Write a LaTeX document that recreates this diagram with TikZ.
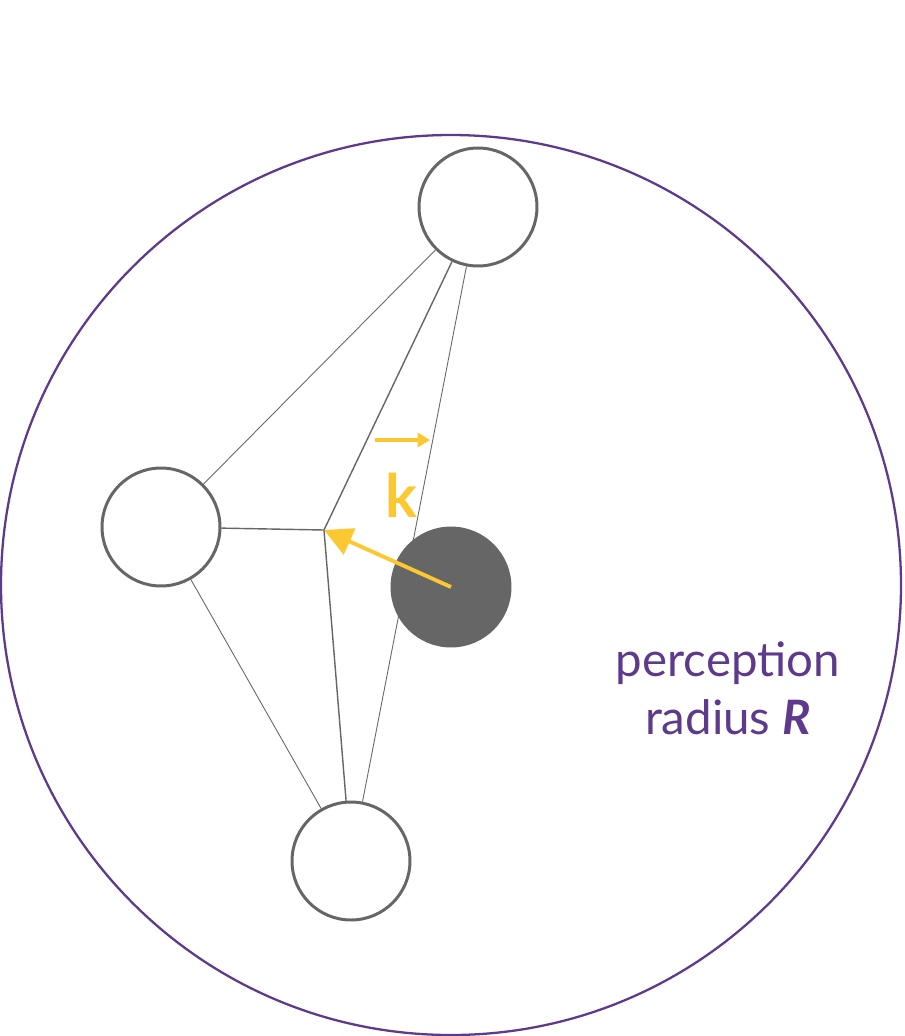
\documentclass[tikz,border=0pt]{standalone}
\usepackage{fontspec}
\setmainfont{Lato}
\usetikzlibrary{arrows.meta}
\definecolor{rpurple}{HTML}{5E3A8C}
\definecolor{kyellow}{HTML}{FCC832}
\definecolor{agray}{HTML}{666666}
\tikzset{
    agent/.style = {circle, draw = agray, line width = 1.7pt, minimum size = 2.36cm, inner sep = 0pt},
    link/.style = {draw = agray, line width = 0.5pt},
}
\begin{document}
\begin{tikzpicture}[x = 0.02cm, y = -0.02cm]
\useasboundingbox (0,0) rectangle (904,1036);
% perception range
\draw[rpurple, line width = 1.3pt] (451,585) circle (450);
% neighbours
\node[agent] (top) at (478,207) {};
\node[agent] (left) at (161,527) {};
\node[agent] (bottom) at (351,861) {};
\coordinate (mid) at (324,530);
\draw[link] (top) -- (left);
\draw[link, line width = 0.8pt] (top) -- (mid);
\draw[link] (top) -- (bottom);
\draw[link, line width = 0.8pt] (left) -- (mid);
\draw[link] (left) -- (bottom);
\draw[link, line width = 0.8pt] (mid) -- (bottom);
% focal agent
\node[agent, fill = agray] (self) at (451,587) {};
\draw[kyellow, line width = 2.2pt, -{Triangle[length = 16pt, width = 16pt]}] (self.center) -- (mid);
\node[text = kyellow, font = \fontseries{k}\selectfont\fontsize{34}{34}\selectfont] (k) at (401,495) {\textbf{k}};
\draw[kyellow, line width = 1.8pt, -{Triangle[length = 7pt, width = 8pt]}] (375,440) -- (430,440);
% label
\node[text = rpurple, font = \fontsize{27}{33}\selectfont, align = center] (lbl) at (728,688) {perception\\radius \textbf{\itshape R}};
\end{tikzpicture}
\end{document}
